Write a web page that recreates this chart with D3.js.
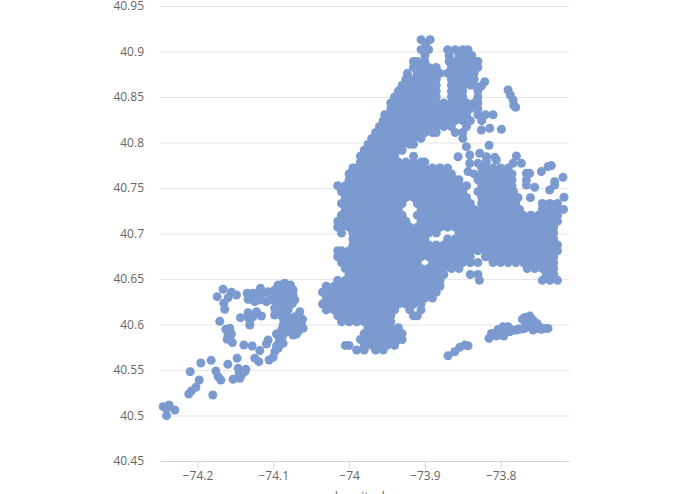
<!DOCTYPE html>
<html>
<head>
<meta charset="utf-8">
<script src="https://cdnjs.cloudflare.com/ajax/libs/d3/7.8.5/d3.min.js"></script>
<style>
html, body { margin: 0; padding: 0; background: #fff; overflow: hidden; }
text { font-family: "Open Sans", sans-serif; }
</style>
</head>
<body>
<script>
var lonTicks = [-74.2, -74.1, -74, -73.9, -73.8];
var latTicks = [40.45, 40.5, 40.55, 40.6, 40.65, 40.7, 40.75, 40.8, 40.85, 40.9, 40.95];

var bodyLat = [40.913, 40.9085, 40.902, 40.8955, 40.889, 40.8825, 40.876, 40.8695, 40.863, 40.8565, 40.85, 40.8435, 40.837, 40.8305, 40.824, 40.8175, 40.811, 40.8045, 40.798, 40.7915, 40.785, 40.7785, 40.772, 40.7655, 40.759, 40.7525, 40.746, 40.7395, 40.733, 40.7265, 40.72, 40.7135, 40.707, 40.7005, 40.694, 40.6875, 40.681, 40.6745, 40.668, 40.6615, 40.655, 40.6485, 40.642, 40.6355, 40.629, 40.6225, 40.616, 40.6095, 40.603, 40.5965, 40.59, 40.5835, 40.577, 40.572];
var bodyLon = [
[-73.893,-73.905],
[-73.899],
[-73.905,-73.895,-73.87,-73.86,-73.85,-73.843],
[-73.90,-73.868,-73.855,-73.845,-73.838],
[-73.915,-73.91,-73.90,-73.868,-73.86,-73.85,-73.84,-73.83],
[-73.915,-73.905,-73.895,-73.885,-73.865,-73.855,-73.845,-73.835,-73.83],
[-73.923,-73.91,-73.90,-73.89,-73.88,-73.87,-73.86,-73.85,-73.84,-73.835],
[-73.925,-73.915,-73.905,-73.895,-73.885,-73.865,-73.855,-73.845,-73.835],
[-73.93,-73.92,-73.91,-73.90,-73.89,-73.885,-73.865,-73.86,-73.85,-73.84,-73.835],
[-73.935,-73.925,-73.915,-73.905,-73.895,-73.885,-73.865,-73.855,-73.85,-73.83],
[-73.94,-73.93,-73.92,-73.91,-73.90,-73.89,-73.885,-73.865,-73.86,-73.85,-73.83],
[-73.945,-73.935,-73.925,-73.915,-73.905,-73.895,-73.885,-73.875,-73.865,-73.855,-73.845,-73.835,-73.83],
[-73.945,-73.94,-73.93,-73.92,-73.91,-73.90,-73.89,-73.88,-73.87,-73.86,-73.85,-73.84,-73.83],
[-73.953,-73.945,-73.935,-73.925,-73.915,-73.905,-73.895,-73.885,-73.875,-73.865,-73.855,-73.845,-73.83,-73.82,-73.81],
[-73.955,-73.95,-73.94,-73.93,-73.92,-73.91,-73.90,-73.89,-73.88,-73.87,-73.86,-73.85,-73.84,-73.825],
[-73.96,-73.955,-73.945,-73.935,-73.925,-73.915,-73.905,-73.895,-73.885,-73.875,-73.865,-73.845],
[-73.965,-73.96,-73.95,-73.94,-73.93,-73.92,-73.91,-73.90,-73.89,-73.885,-73.86,-73.85],
[-73.97,-73.965,-73.955,-73.945,-73.935,-73.925,-73.915,-73.905,-73.85],
[-73.975,-73.97,-73.96,-73.95,-73.94,-73.93,-73.92,-73.915],
[-73.98,-73.975,-73.965,-73.955,-73.945,-73.935,-73.93],
[-73.985,-73.98,-73.97,-73.96,-73.95,-73.94,-73.915],
[-73.985,-73.975,-73.965,-73.955,-73.945,-73.935,-73.925,-73.915,-73.905,-73.90],
[-73.995,-73.99,-73.98,-73.97,-73.96,-73.95,-73.94,-73.93,-73.92,-73.91,-73.90,-73.89,-73.88,-73.87,-73.825,-73.82,-73.81,-73.80,-73.79],
[-74.0,-73.995,-73.985,-73.975,-73.965,-73.955,-73.945,-73.935,-73.925,-73.915,-73.905,-73.895,-73.885,-73.875,-73.865,-73.835,-73.825,-73.815,-73.805,-73.795,-73.785],
[-74.0,-73.99,-73.98,-73.97,-73.96,-73.95,-73.94,-73.93,-73.92,-73.91,-73.90,-73.89,-73.88,-73.87,-73.86,-73.855,-73.83,-73.82,-73.81,-73.80,-73.79,-73.785],
[-74.015,-74.005,-73.995,-73.985,-73.975,-73.965,-73.955,-73.945,-73.935,-73.925,-73.915,-73.905,-73.895,-73.885,-73.875,-73.865,-73.855,-73.845,-73.825,-73.815,-73.805,-73.795,-73.785],
[-74.01,-74.0,-73.99,-73.98,-73.97,-73.96,-73.95,-73.94,-73.93,-73.92,-73.91,-73.90,-73.89,-73.88,-73.87,-73.86,-73.85,-73.83,-73.82,-73.81,-73.80,-73.79,-73.783],
[-74.005,-73.995,-73.985,-73.975,-73.965,-73.955,-73.945,-73.935,-73.925,-73.915,-73.905,-73.895,-73.885,-73.875,-73.865,-73.855,-73.845,-73.825,-73.815,-73.805,-73.795,-73.785],
[-74.01,-74.0,-73.99,-73.98,-73.97,-73.96,-73.95,-73.94,-73.93,-73.91,-73.90,-73.89,-73.88,-73.87,-73.86,-73.85,-73.84,-73.825,-73.82,-73.81,-73.80,-73.79,-73.78,-73.745,-73.735,-73.725],
[-74.005,-73.995,-73.985,-73.975,-73.965,-73.955,-73.945,-73.935,-73.905,-73.895,-73.885,-73.875,-73.865,-73.855,-73.845,-73.835,-73.825,-73.815,-73.805,-73.795,-73.785,-73.775,-73.745,-73.735,-73.725,-73.717],
[-74.01,-74.0,-73.99,-73.98,-73.97,-73.96,-73.95,-73.94,-73.93,-73.91,-73.90,-73.89,-73.88,-73.87,-73.86,-73.85,-73.84,-73.83,-73.82,-73.81,-73.80,-73.79,-73.78,-73.77,-73.76,-73.75,-73.74,-73.73,-73.725],
[-74.015,-74.005,-73.995,-73.985,-73.975,-73.965,-73.955,-73.945,-73.935,-73.925,-73.905,-73.895,-73.885,-73.875,-73.865,-73.855,-73.845,-73.835,-73.825,-73.815,-73.805,-73.795,-73.785,-73.775,-73.765,-73.755,-73.745,-73.735,-73.725],
[-74.015,-74.01,-74.0,-73.99,-73.98,-73.97,-73.96,-73.95,-73.94,-73.93,-73.92,-73.91,-73.90,-73.89,-73.88,-73.87,-73.86,-73.85,-73.84,-73.83,-73.82,-73.81,-73.80,-73.79,-73.78,-73.77,-73.76,-73.75,-73.74,-73.73],
[-74.01,-73.995,-73.985,-73.975,-73.965,-73.955,-73.945,-73.935,-73.925,-73.915,-73.905,-73.895,-73.885,-73.855,-73.845,-73.835,-73.825,-73.815,-73.805,-73.795,-73.785,-73.775,-73.765,-73.755,-73.745,-73.735,-73.73],
[-73.995,-73.99,-73.98,-73.97,-73.96,-73.95,-73.94,-73.93,-73.92,-73.91,-73.90,-73.87,-73.86,-73.85,-73.84,-73.83,-73.82,-73.81,-73.80,-73.79,-73.78,-73.77,-73.76,-73.75,-73.74,-73.73],
[-73.995,-73.985,-73.975,-73.965,-73.955,-73.945,-73.935,-73.925,-73.915,-73.905,-73.895,-73.885,-73.875,-73.865,-73.855,-73.845,-73.835,-73.825,-73.815,-73.805,-73.795,-73.785,-73.775,-73.765,-73.755,-73.745,-73.735,-73.725],
[-74.015,-74.01,-74.0,-73.99,-73.98,-73.97,-73.96,-73.95,-73.94,-73.93,-73.92,-73.91,-73.90,-73.89,-73.88,-73.87,-73.86,-73.85,-73.84,-73.83,-73.82,-73.81,-73.80,-73.79,-73.78,-73.77,-73.76,-73.75,-73.74,-73.73,-73.725],
[-74.015,-74.005,-73.995,-73.985,-73.975,-73.965,-73.955,-73.945,-73.935,-73.925,-73.915,-73.905,-73.895,-73.885,-73.875,-73.865,-73.855,-73.845,-73.84,-73.82,-73.815,-73.805,-73.795,-73.785,-73.775,-73.765,-73.755,-73.745,-73.735,-73.73],
[-74.01,-74.0,-73.99,-73.98,-73.97,-73.96,-73.95,-73.94,-73.93,-73.92,-73.91,-73.89,-73.88,-73.87,-73.86,-73.85,-73.84,-73.83,-73.81,-73.80,-73.79,-73.78,-73.77,-73.76,-73.75,-73.74,-73.73],
[-74.005,-73.995,-73.985,-73.975,-73.965,-73.955,-73.945,-73.935,-73.925,-73.915,-73.905,-73.895,-73.885,-73.875,-73.865,-73.855,-73.765,-73.755,-73.745,-73.735,-73.73],
[-74.0,-73.99,-73.98,-73.97,-73.96,-73.95,-73.94,-73.93,-73.92,-73.91,-73.90,-73.89,-73.88,-73.875,-73.84,-73.83,-73.74,-73.73],
[-74.015,-74.005,-73.995,-73.985,-73.975,-73.965,-73.955,-73.945,-73.935,-73.925,-73.915,-73.905,-73.895,-73.885,-73.88,-73.828,-73.745,-73.735,-73.725],
[-74.03,-74.02,-74.01,-74.0,-73.99,-73.98,-73.97,-73.96,-73.95,-73.94,-73.93,-73.92,-73.91,-73.90,-73.89,-73.88],
[-74.035,-74.025,-74.015,-74.005,-73.995,-73.985,-73.975,-73.965,-73.955,-73.945,-73.935,-73.925,-73.915,-73.905,-73.895,-73.885],
[-74.03,-74.02,-74.01,-74.0,-73.99,-73.98,-73.97,-73.96,-73.95,-73.94,-73.93,-73.92,-73.91,-73.90,-73.89],
[-74.035,-74.025,-74.015,-74.005,-73.995,-73.985,-73.975,-73.965,-73.955,-73.945,-73.935,-73.925,-73.915,-73.905],
[-74.03,-74.02,-74.01,-74.0,-73.99,-73.98,-73.97,-73.96,-73.95,-73.94,-73.92,-73.905],
[-74.015,-74.005,-73.995,-73.985,-73.975,-73.965,-73.955,-73.945,-73.915,-73.91],
[-74.01,-74.0,-73.99,-73.98,-73.97,-73.96,-73.95,-73.945],
[-73.975,-73.965,-73.955,-73.945,-73.935],
[-73.98,-73.97,-73.96,-73.95,-73.94,-73.93],
[-73.985,-73.975,-73.965,-73.955,-73.945,-73.935,-73.93],
[-74.005,-74.0,-73.98,-73.97,-73.96,-73.95,-73.94],
[-73.99,-73.98,-73.965,-73.955]
];

// dots that stand apart north and east of the mass
var outerLon = [-73.8254,-73.821,-73.7902,-73.7872,-73.7836,-73.7828,-73.7801,-73.799,-73.8254,-73.8144,-73.8452,-73.8153,-73.8562,-73.8408,-73.8276,-73.8188,-73.8078,-73.7792,-73.8408,-73.8298,-73.8188,-73.8056,-73.7836,-73.7726,-73.843,-73.7617,-73.7463,-73.7375,-73.7331,-73.7177,-73.7287,-73.7287,-73.7353,-73.7608,-73.777,-73.7164,-73.766,-73.766,-73.755,-73.766];
var outerLat = [40.862,40.8668,40.8577,40.8522,40.8467,40.8412,40.8387,40.8145,40.8137,40.8156,40.7954,40.7969,40.7844,40.7863,40.7881,40.7844,40.7837,40.7852,40.7771,40.7771,40.7789,40.7808,40.7771,40.7771,40.768,40.7661,40.768,40.7735,40.7746,40.7617,40.757,40.7533,40.7478,40.7394,40.7394,40.7398,40.7588,40.7533,40.7507,40.7661];

// Rockaway strip and Broad Channel
var beachLon = [-73.8694,-73.8606,-73.854,-73.8474,-73.843,-73.8153,-73.8122,-73.8056,-73.799,-73.7968,-73.7902,-73.788,-73.7792,-73.7726,-73.7683,-73.7617,-73.7661,-73.7573,-73.7617,-73.752,-73.7476,-73.7375,-73.7573,-73.7461,-73.796,-73.8091,-73.8025,-73.7946,-73.7836,-73.7757,-73.7713,-73.7661,-73.7573,-73.752,-73.7419,-73.7683,-73.8034,-73.7924,-73.7617];
var beachLat = [40.5657,40.57,40.5749,40.5774,40.5767,40.5847,40.5902,40.5873,40.592,40.5976,40.5976,40.592,40.5939,40.595,40.6078,40.6093,40.6042,40.605,40.5976,40.6012,40.5968,40.5957,40.5939,40.5946,40.5873,40.5895,40.5902,40.5939,40.5939,40.595,40.6056,40.6005,40.5994,40.5957,40.5957,40.5957,40.5946,40.5957,40.6049];

// Staten Island
var statenLon = [-74.2453,-74.2374,-74.2299,-74.2409,-74.2409,-74.2115,-74.208,-74.2022,-74.1978,-74.2097,-74.1956,-74.182,-74.1798,-74.1758,-74.1728,-74.1692,-74.16,-74.1477,-74.153,-74.1442,-74.1376,-74.1464,-74.142,-74.1363,-74.1451,-74.1741,-74.1662,-74.1552,-74.1596,-74.1653,-74.164,-74.1706,-74.1627,-74.1552,-74.1609,-74.1539,-74.1389,-74.1433,-74.1345,-74.1288,-74.1332,-74.1266,-74.1169,-74.1068,-74.1178,-74.109,-74.1332,-74.1222,-74.1156,-74.131,-74.131,-74.1279,-74.1178,-74.1244,-74.1191,-74.1068,-74.109,-74.1055,-74.1002,-74.098,-74.0936,-74.087,-74.0936,-74.0848,-74.0773,-74.0982,-74.0914,-74.0826,-74.0738,-74.0958,-74.087,-74.0782,-74.0716,-74.0804,-74.0892,-74.098,-74.0982,-74.0914,-74.0826,-74.0747,-74.0982,-74.0914,-74.0848,-74.065,-74.0615,-74.0716,-74.0804,-74.087,-74.087,-74.0782,-74.0694,-74.0606,-74.0672,-74.0738,-74.0826,-74.0892,-74.0958,-74.076,-74.0672,-74.0914];
var statenLat = [40.5097,40.5115,40.506,40.4998,40.5079,40.5236,40.527,40.531,40.539,40.5482,40.5577,40.5606,40.5225,40.5489,40.5427,40.539,40.5562,40.563,40.5398,40.5409,40.5482,40.5518,40.5445,40.5508,40.5464,40.6306,40.6387,40.6354,40.6295,40.6233,40.6167,40.6035,40.5947,40.5896,40.5837,40.5801,40.5775,40.6075,40.6343,40.6277,40.6277,40.6343,40.6398,40.6361,40.627,40.6251,40.613,40.6141,40.6094,40.605,40.5995,40.5764,40.5713,40.563,40.5592,40.583,40.5786,40.561,40.5639,40.5702,40.5738,40.5793,40.6434,40.6453,40.6434,40.638,40.638,40.638,40.638,40.6324,40.6324,40.6324,40.627,40.627,40.627,40.627,40.6178,40.6196,40.6214,40.6233,40.6105,40.6123,40.6141,40.6141,40.6057,40.6086,40.6068,40.6068,40.5995,40.6013,40.6013,40.5958,40.5921,40.5885,40.5921,40.594,40.5896,40.5958,40.5958,40.5848];

// second reading of the dense part of Staten Island
var statenDenseLon = [-74.0892,-74.0804,-74.0958,-74.087,-74.0782,-74.0914,-74.0826,-74.0738,-74.0848,-74.076,-74.0936,-74.087,-74.0782,-74.0958,-74.087,-74.0804,-74.0958,-74.0892,-74.0826,-74.0848,-74.076,-74.0672,-74.0804,-74.0716,-74.0628,-74.0782,-74.0694,-74.087,-74.0923,-74.0958,-74.1574,-74.1596,-74.1486,-74.1222,-74.12,-74.1134,-74.1244,-74.098,-74.1046,-74.1332,-74.1266];
var statenDenseLat = [40.6434,40.6409,40.638,40.638,40.638,40.6324,40.6324,40.6324,40.627,40.627,40.6233,40.6214,40.6214,40.6178,40.6167,40.616,40.6123,40.6105,40.6105,40.6031,40.605,40.605,40.5976,40.5976,40.5995,40.5921,40.5896,40.5885,40.5812,40.5764,40.5958,40.5885,40.6324,40.6343,40.6288,40.6343,40.6251,40.6343,40.627,40.6079,40.6086];

var svgWidth = 695;
var svgHeight = 494;
var plot = {left: 160, right: 569, top: 6, bottom: 461};

var xScale = d3.scaleLinear()
	.domain([-74.2495, -73.7098])
	.range([plot.left, plot.right]);
var yScale = d3.scaleLinear()
	.domain([40.45, 40.95])
	.range([plot.bottom, plot.top]);

var points = [];
bodyLat.forEach(function(lat, i) {
	bodyLon[i].forEach(function(lon) {
		points.push([lon, lat]);
	});
});
outerLon.forEach(function(lon, i) { points.push([lon, outerLat[i]]); });
beachLon.forEach(function(lon, i) { points.push([lon, beachLat[i]]); });
statenLon.forEach(function(lon, i) { points.push([lon, statenLat[i]]); });
statenDenseLon.forEach(function(lon, i) { points.push([lon, statenDenseLat[i]]); });

var svg = d3.select('body')
	.append('svg')
	.attr('width', svgWidth)
	.attr('height', svgHeight)
	.style('display', 'block');

// horizontal grid with labels
var yAxis = svg.append('g')
	.attr('transform', 'translate(' + plot.left + ',0)')
	.call(d3.axisLeft(yScale)
		.tickValues(latTicks)
		.tickSize(-(plot.right - plot.left))
		.tickPadding(16)
		.tickFormat(function(d) { return d; }));
yAxis.select('.domain').remove();
yAxis.selectAll('line').attr('stroke', '#e6e6e6');
yAxis.selectAll('text').attr('fill', '#666').style('font-size', '12px');

var xAxis = svg.append('g')
	.attr('transform', 'translate(0,' + plot.bottom + ')')
	.call(d3.axisBottom(xScale)
		.tickValues(lonTicks)
		.tickSize(8)
		.tickSizeOuter(0)
		.tickPadding(2)
		.tickFormat(d3.format('')));
xAxis.select('.domain').attr('stroke', '#ccd6eb');
xAxis.selectAll('line').attr('stroke', '#ccd6eb');
xAxis.selectAll('text').attr('fill', '#666').style('font-size', '12px');

svg.append('text')
	.attr('x', (plot.left + plot.right) / 2 - 1)
	.attr('y', 501)
	.attr('text-anchor', 'middle')
	.attr('fill', '#666')
	.style('font-size', '13px')
	.text('longitude');

svg.append('g')
	.selectAll('circle')
	.data(points)
	.enter()
	.append('circle')
	.attr('cx', function(d) { return xScale(d[0]); })
	.attr('cy', function(d) { return yScale(d[1]); })
	.attr('r', 4.5)
	.attr('fill', '#7b9ad0');
</script>
</body>
</html>
